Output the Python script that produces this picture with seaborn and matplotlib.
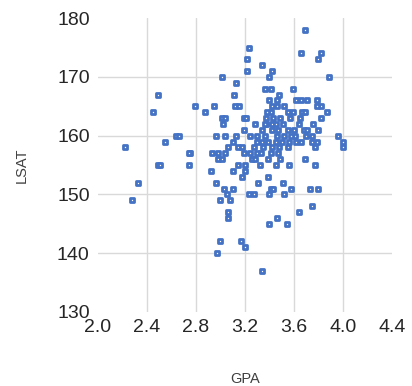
import matplotlib
matplotlib.use("Agg")
import matplotlib.pyplot as plt
import seaborn as sns
import pandas as pd

# GPA / LSAT pairs
gpa = [3.69, 3.23, 3.22, 3.22, 3.01, 3.13, 3.11, 2.49, 2.45, 2.79,
       2.87, 2.95, 3.12, 3.15, 3.01, 3.04, 3.02, 3.19, 3.21, 3.19,
       3.28, 3.34, 3.42, 3.40, 3.66, 3.82, 3.80, 3.89, 3.36, 3.41,
       3.59, 3.48, 3.40, 3.46, 3.62, 3.66, 3.71, 3.79, 3.82, 3.87,
       3.82, 3.42, 3.46, 3.52, 3.79, 3.41, 3.55, 3.59, 3.67, 3.69,
       3.37, 3.43, 3.49, 3.57, 3.65, 3.37, 3.51, 3.64, 3.76, 3.34,
       3.42, 3.47, 3.55, 3.60, 3.68, 3.71, 3.80, 2.96, 3.04, 3.13,
       3.24, 3.30, 3.36, 3.46, 3.61, 3.75, 3.96, 3.10, 3.30, 3.34,
       3.39, 3.45, 3.56, 3.62, 3.75, 3.79, 4.00, 4.00, 3.06, 3.14,
       3.18, 3.27, 3.35, 3.42, 3.77, 2.75, 2.93, 2.98, 3.04, 3.19,
       3.24, 3.30, 3.41, 3.47, 2.98, 3.01, 3.26, 3.39, 3.49, 3.69,
       3.14, 3.20, 3.32, 3.45, 3.56, 3.77, 2.92, 3.10, 3.20, 3.18,
       3.39, 2.96, 3.31, 3.51, 3.03, 3.10, 3.41, 3.43, 3.58, 3.73,
       3.80, 3.23, 3.27, 3.05, 3.40, 3.52, 3.00, 3.08, 3.75, 3.06,
       3.64, 3.06, 3.46, 3.40, 3.54, 3.00, 2.97, 3.17, 3.20, 3.34,
       2.64, 2.66, 2.55, 2.22, 2.74, 2.49, 2.51, 2.74, 2.33, 2.28,
       3.42, 3.45, 3.52, 3.55, 3.50, 3.38, 3.33, 3.48, 3.36, 3.58,
       3.70, 3.66, 3.28]
lsat = [178, 175, 173, 171, 170, 169, 167, 167, 164, 165,
        164, 165, 165, 165, 163, 163, 162, 163, 163, 161,
        162, 172, 171, 170, 174, 174, 173, 170, 168, 168,
        168, 167, 166, 166, 166, 166, 166, 166, 165, 164,
        163, 165, 165, 165, 165, 164, 164, 164, 164, 164,
        163, 163, 163, 163, 163, 162, 162, 162, 162, 161,
        161, 161, 161, 161, 161, 161, 161, 160, 160, 160,
        160, 160, 160, 160, 160, 160, 160, 159, 159, 159,
        159, 159, 159, 159, 159, 159, 159, 158, 158, 158,
        158, 158, 158, 158, 158, 157, 157, 157, 157, 157,
        157, 157, 157, 157, 156, 156, 156, 156, 156, 156,
        155, 155, 155, 155, 155, 155, 154, 154, 154, 153,
        153, 152, 152, 152, 151, 151, 151, 151, 151, 151,
        151, 150, 150, 150, 150, 150, 149, 149, 148, 147,
        147, 146, 146, 145, 145, 142, 140, 142, 141, 137,
        160, 160, 159, 158, 157, 155, 155, 155, 152, 149,
        162, 162, 160, 158, 159, 164, 157, 158, 162, 160,
        160, 159, 156]

x_ticks = [2.0, 2.4, 2.8, 3.2, 3.6, 4.0, 4.4]
y_ticks = [130, 140, 150, 160, 170, 180]

df = pd.DataFrame({"GPA": gpa, "LSAT": lsat})

sns.set_style("white")
plt.rcParams["font.family"] = ["Liberation Sans", "DejaVu Sans"]

fig = plt.figure(figsize=(4.12, 3.86), dpi=100)
ax = fig.add_axes([0.238, 0.192, 0.713, 0.761])

sns.scatterplot(data=df, x="GPA", y="LSAT", ax=ax, marker="s", s=10,
                facecolor="white", edgecolor="#4472C4", linewidth=2.0,
                zorder=3)

ax.set_xlim(x_ticks[0], x_ticks[-1])
ax.set_ylim(y_ticks[0], y_ticks[-1])
ax.set_xticks(x_ticks)
ax.set_yticks(y_ticks)
ax.set_xticklabels([f"{t:.1f}" for t in x_ticks])
ax.tick_params(axis="both", length=0, labelsize=14, colors="#262626")
ax.tick_params(axis="y", pad=6)
ax.tick_params(axis="x", pad=5)

# light grid, only inside the plot area like Excel
ax.grid(True, color="#D9D9D9", linewidth=1)
for lines in (ax.xaxis.get_gridlines(), ax.yaxis.get_gridlines()):
    lines[0].set_visible(False)
    lines[-1].set_visible(False)

for sp in ax.spines.values():
    sp.set_visible(False)

ax.set_xlabel("GPA", fontsize=10.5, color="#404040")
ax.set_ylabel("LSAT", fontsize=10.5, color="#404040")
ax.xaxis.set_label_coords(0.5, -0.205)
ax.yaxis.set_label_coords(-0.235, 0.5)

fig.savefig("out.png", dpi=100)
